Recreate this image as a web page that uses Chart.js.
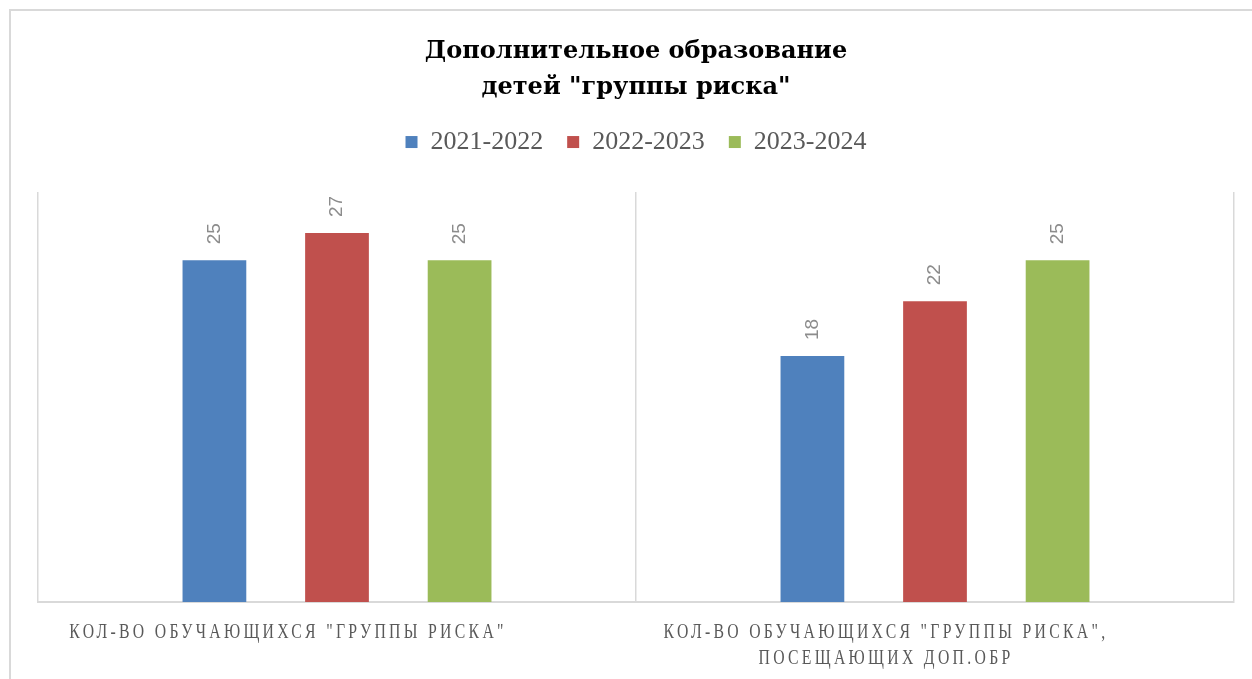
<!DOCTYPE html>
<html>
<head>
<meta charset="utf-8">
<script src="https://cdn.jsdelivr.net/npm/chart.js@4/dist/chart.umd.min.js"></script>
<style>
  body { margin: 0; background: #fff; overflow: hidden; }
  #frame { position: absolute; left: 9px; top: 9px; width: 1300px; height: 720px; border: 2px solid #d9d9d9; }
  #c { position: absolute; left: 0; top: 0; }
</style>
</head>
<body>
<div id="frame"></div>
<canvas id="c" width="1252" height="679"></canvas>
<script>
'use strict'

// data
const categories = [
  ['КОЛ-ВО ОБУЧАЮЩИХСЯ "ГРУППЫ РИСКА"'],
  ['КОЛ-ВО ОБУЧАЮЩИХСЯ "ГРУППЫ РИСКА",', 'ПОСЕЩАЮЩИХ ДОП.ОБР']
];
const seriesNames = ['2021-2022', '2022-2023', '2023-2024'];
const values2021 = [25, 18];
const values2022 = [27, 22];
const values2023 = [25, 25];
const titleLines = ['Дополнительное образование', 'детей "группы риска"'];
const colors = ['#4f81bd', '#c0504d', '#9bbb59'];

// extra room between legend and plot
const legendGap = {
  id: 'legendGap',
  beforeInit(chart) {
    const fit = chart.legend.fit;
    chart.legend.fit = function () {
      fit.call(this);
      this.height += 27;
    };
  }
};

// rotated value labels above the bars
const barLabels = {
  id: 'barLabels',
  afterDatasetsDraw(chart) {
    const ctx = chart.ctx;
    ctx.save();
    ctx.font = '19px "Liberation Sans"';
    ctx.fillStyle = '#8c8c8c';
    ctx.textAlign = 'left';
    ctx.textBaseline = 'middle';
    chart.data.datasets.forEach((ds, i) => {
      chart.getDatasetMeta(i).data.forEach((bar, j) => {
        ctx.save();
        ctx.translate(bar.x, bar.y - 16);
        ctx.rotate(-Math.PI / 2);
        ctx.fillText(String(ds.data[j]), 0, 0);
        ctx.restore();
      });
    });
    ctx.restore();
  }
};

// category labels: spaced, narrow capitals
const catLabels = {
  id: 'catLabels',
  afterDraw(chart) {
    const ctx = chart.ctx;
    const xs = chart.scales.x;
    ctx.save();
    ctx.font = '21px "Liberation Serif"';
    ctx.fillStyle = '#595959';
    ctx.textAlign = 'center';
    ctx.textBaseline = 'middle';
    ctx.letterSpacing = '4.4px';
    categories.forEach((lines, i) => {
      const cx = xs.getPixelForValue(i) - 49;
      lines.forEach((t, k) => {
        ctx.save();
        ctx.translate(cx, xs.bottom + 30 + k * 26);
        ctx.scale(0.75, 1);
        ctx.fillText(t, 0, 0);
        ctx.restore();
      });
    });
    ctx.restore();
  }
};

const chart = new Chart(document.getElementById('c'), {
  type: 'bar',
  data: {
    labels: categories.map(l => l.join(' ')),
    datasets: [
      { label: seriesNames[0], data: values2021, backgroundColor: colors[0] },
      { label: seriesNames[1], data: values2022, backgroundColor: colors[1] },
      { label: seriesNames[2], data: values2023, backgroundColor: colors[2] }
    ]
  },
  options: {
    responsive: false,
    devicePixelRatio: 1,
    animation: false,
    layout: { padding: { left: 38, right: 18, top: 0, bottom: 77 } },
    datasets: { bar: { categoryPercentage: 0.615, barPercentage: 0.52 } },
    plugins: {
      title: {
        display: true,
        text: titleLines,
        color: '#000',
        font: { family: '"DejaVu Serif"', size: 24, weight: 'bold', lineHeight: 1.48 },
        padding: { top: 34, bottom: 0 }
      },
      legend: {
        display: true,
        labels: {
          boxWidth: 12,
          boxHeight: 12,
          padding: 24,
          color: '#595959',
          font: { family: '"Liberation Serif", serif', size: 26 }
        }
      },
      tooltip: { enabled: false }
    },
    scales: {
      x: {
        grid: { offset: true, color: '#d9d9d9', lineWidth: 1.5, drawTicks: false },
        border: { color: '#d9d9d9', width: 2 },
        ticks: { display: false }
      },
      y: {
        display: false,
        min: 0,
        max: 30
      }
    }
  },
  plugins: [legendGap, barLabels, catLabels]
});
</script>
</body>
</html>
